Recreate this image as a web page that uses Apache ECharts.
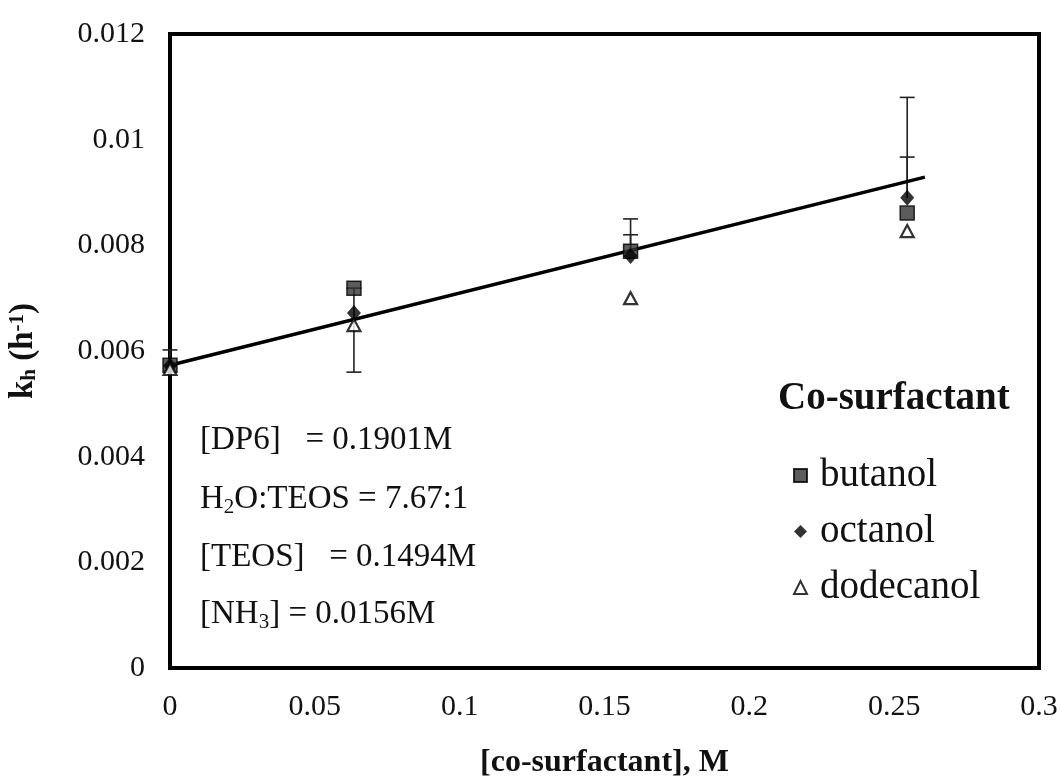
<!DOCTYPE html>
<html>
<head>
<meta charset="utf-8">
<script src="https://cdn.jsdelivr.net/npm/echarts@6/dist/echarts.min.js"></script>
<style>html,body{margin:0;padding:0;background:#fff}#c{width:1061px;height:777px}</style>
</head>
<body>
<div id="c"></div>
<script>
// ---- data ----
const xVals = [0, 0.0635, 0.159, 0.2545];
const butanol = [0.00573, 0.00719, 0.00789, 0.00861];
const octanol = [0.00572, 0.00672, 0.00780, 0.00890];
const dodecanol = [0.00566, 0.00649, 0.00700, 0.00827];
// error bars: [x, low, high]
const errorBars = [
  [0, 0.00573, 0.00602],
  [0.0635, 0.00560, 0.00719],
  [0.159, 0.00789, 0.00850],
  [0.159, 0.00789, 0.00820],
  [0.2545, 0.00890, 0.01080],
  [0.2545, 0.00890, 0.00967]
];
const errorLowCap = [false, true, false, false, false, false];
const trendLine = [[0, 0.00573], [0.2606, 0.00929]];
const yTicks = [0, 0.002, 0.004, 0.006, 0.008, 0.01, 0.012];
const xTicks = [0, 0.05, 0.1, 0.15, 0.2, 0.25, 0.3];

const FONT = '"Liberation Serif", "DejaVu Serif", serif';
const zip = (xs, ys) => xs.map((x, i) => [x, ys[i]]);

const chart = echarts.init(document.getElementById('c'));
chart.setOption({
  backgroundColor: '#fff',
  animation: false,
  grid: {left: 170, right: 22, top: 34, bottom: 109, show: true, borderColor: '#000', borderWidth: 4,
    containLabel: false, outerBoundsMode: 'none'},
  xAxis: {
    type: 'value', min: 0, max: 0.3, interval: 0.05,
    axisLine: {show: false}, axisTick: {show: false}, splitLine: {show: false},
    axisLabel: {fontFamily: FONT, fontSize: 30, color: '#111', margin: 24,
      formatter: v => String(parseFloat(v.toFixed(4)))},
    name: '[co-surfactant], M', nameLocation: 'middle', nameGap: 79,
    nameTextStyle: {fontFamily: FONT, fontSize: 32, fontWeight: 'bold', color: '#111'}
  },
  yAxis: {
    type: 'value', min: 0, max: 0.012, interval: 0.002,
    axisLine: {show: false}, axisTick: {show: false}, splitLine: {show: false},
    axisLabel: {fontFamily: FONT, fontSize: 30, color: '#111', margin: 25,
      formatter: v => String(parseFloat(v.toFixed(4)))},
    name: 'k{sub|h} (h{sup|-1})', nameLocation: 'middle', nameGap: 130, nameRotate: 90,
    nameTextStyle: {fontFamily: FONT, fontSize: 33, fontWeight: 'bold', color: '#111',
      rich: {
        sub: {fontFamily: FONT, fontSize: 21, fontWeight: 'bold', color: '#111', verticalAlign: 'bottom', padding: [12, 0, 0, 0]},
        sup: {fontFamily: FONT, fontSize: 21, fontWeight: 'bold', color: '#111', verticalAlign: 'top', padding: [0, 0, 12, 0]}
      }}
  },
  legend: {
    orient: 'vertical', left: 788, top: 451, itemGap: 17, itemWidth: 13, itemHeight: 13,
    data: ['butanol', 'octanol', 'dodecanol'],
    textStyle: {fontFamily: FONT, fontSize: 39, lineHeight: 39, color: '#111', padding: [0, 0, 0, 8]}
  },
  graphic: [
    {type: 'text', left: 778, top: 379, style: {text: 'Co-surfactant', font: 'bold 39px ' + FONT, fill: '#111'}},
    {type: 'text', left: 200, top: 424, style: {text: '[DP6]   = 0.1901M', font: '33px ' + FONT, fill: '#111'}},
    {type: 'text', left: 200, top: 483, style: {
      text: '{n|H}{s|2}{n|O:TEOS = 7.67:1}',
      rich: {n: {font: '33px ' + FONT, fill: '#111'}, s: {font: '21px ' + FONT, fill: '#111', padding: [15, 0, 0, 0]}}}},
    {type: 'text', left: 200, top: 541, style: {text: '[TEOS]   = 0.1494M', font: '33px ' + FONT, fill: '#111'}},
    {type: 'text', left: 200, top: 598, style: {
      text: '{n|[NH}{s|3}{n|] = 0.0156M}',
      rich: {n: {font: '33px ' + FONT, fill: '#111'}, s: {font: '21px ' + FONT, fill: '#111', padding: [15, 0, 0, 0]}}}}
  ],
  series: [
    {
      type: 'custom', name: 'err', z: 1, silent: true,
      data: errorBars.map((e, i) => [e[0], e[1], e[2], errorLowCap[i] ? 1 : 0]),
      encode: {x: 0, y: [1, 2]},
      renderItem: (params, api) => {
        const lo = api.coord([api.value(0), api.value(1)]);
        const hi = api.coord([api.value(0), api.value(2)]);
        const w = 7.5;
        const st = {stroke: '#222', lineWidth: 1.6};
        const ch = [
          {type: 'line', shape: {x1: lo[0], y1: lo[1], x2: hi[0], y2: hi[1]}, style: st},
          {type: 'line', shape: {x1: hi[0] - w, y1: hi[1], x2: hi[0] + w, y2: hi[1]}, style: st}
        ];
        if (api.value(3)) ch.push({type: 'line', shape: {x1: lo[0] - w, y1: lo[1], x2: lo[0] + w, y2: lo[1]}, style: st});
        return {type: 'group', children: ch};
      }
    },
    {
      type: 'line', name: 'trend', data: trendLine, symbol: 'none', z: 2, silent: true,
      lineStyle: {color: '#000', width: 3.4}
    },
    {
      type: 'scatter', name: 'butanol', data: zip(xVals, butanol), symbol: 'rect', symbolSize: 14, z: 3,
      itemStyle: {color: '#333', borderColor: '#000', borderWidth: 1.5}
    },
    {
      type: 'scatter', name: 'octanol', data: zip(xVals, octanol), symbol: 'diamond', symbolSize: [14, 16], z: 4,
      itemStyle: {color: '#000'}
    },
    {
      type: 'scatter', name: 'dodecanol', data: zip(xVals, dodecanol), symbol: 'triangle', symbolSize: [13, 12], z: 5,
      itemStyle: {color: '#fff', borderColor: '#000', borderWidth: 2.2}
    }
  ]
});
</script>
</body>
</html>
